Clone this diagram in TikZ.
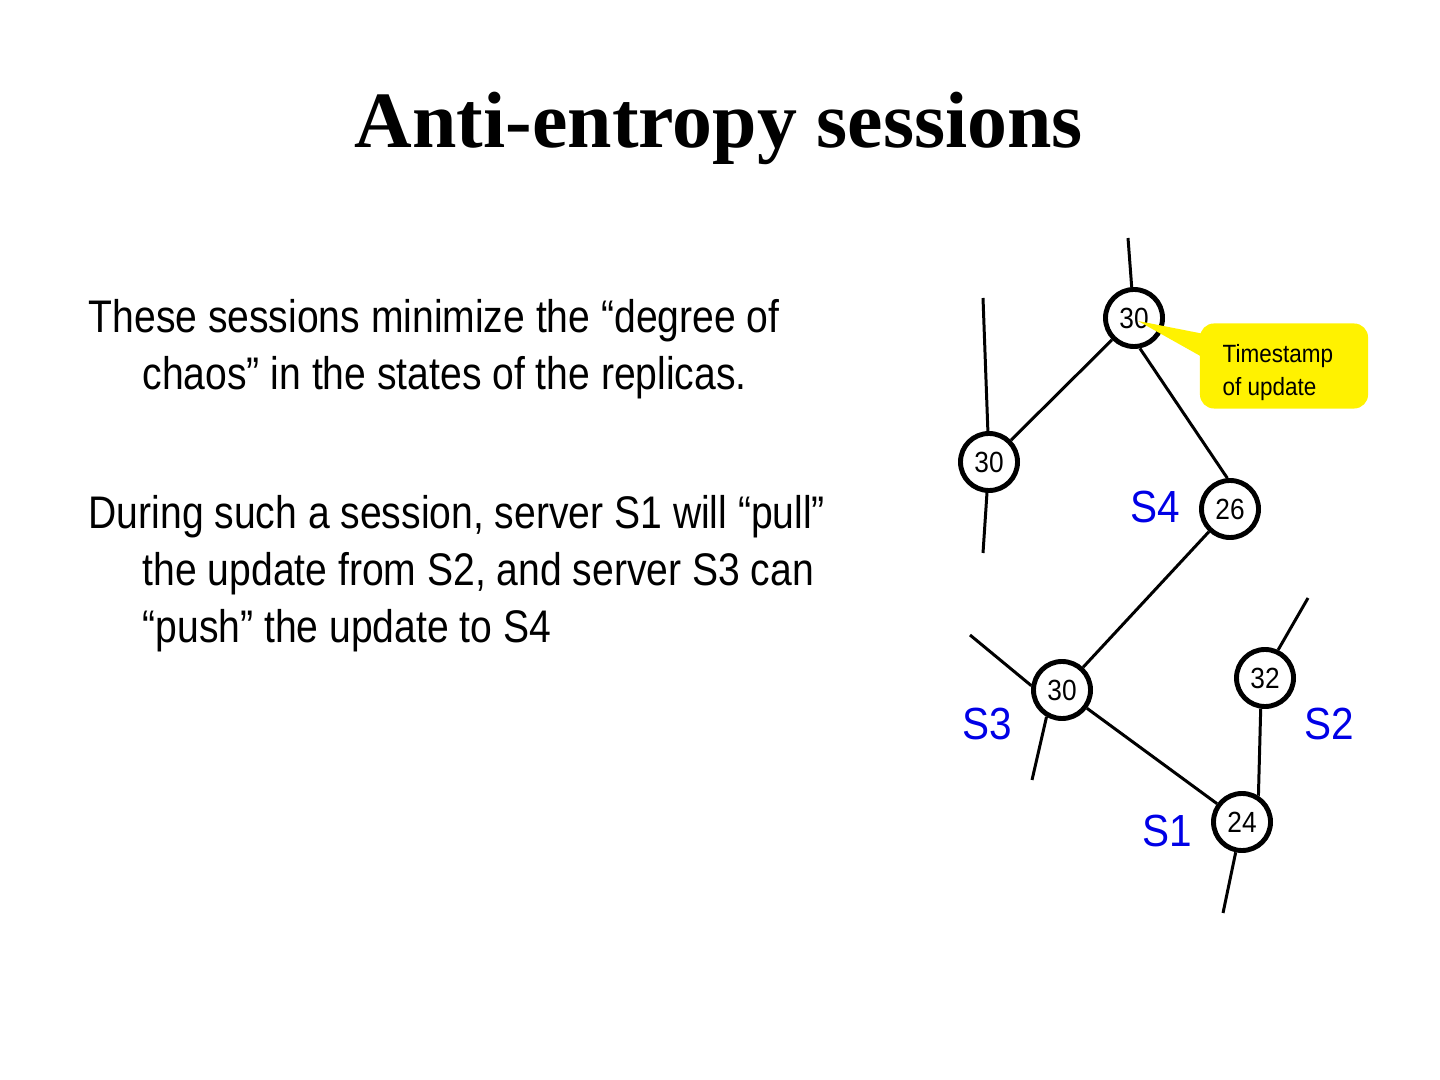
\documentclass[tikz,border=0pt]{standalone}
\usepackage{fontspec}
\setmainfont{Liberation Sans}
\newfontfamily\narrowfont{Liberation Sans}[FakeStretch=0.855]
\newfontfamily\numfont{Liberation Sans}[FakeStretch=0.9]
\newfontfamily\titlefont{Liberation Serif}
\usetikzlibrary{positioning, calc}
\definecolor{srvblue}{RGB}{0,0,230}

\begin{document}
\begin{tikzpicture}[x=0.01cm, y=-0.01cm,
    replica/.style={circle, draw, line width=1.4pt, fill=white, minimum size=0.57cm, inner sep=0pt,
        font=\numfont\fontsize{8.3}{10}\selectfont},
    link/.style={line width=0.85pt},
    srv/.style={text=srvblue, inner sep=0pt, font=\numfont\fontsize{12.8}{15}\selectfont},
    body/.style={anchor=base west, inner sep=0pt, font=\narrowfont\fontsize{13}{16}\selectfont},
    notebox/.style={fill=yellow, rounded corners=0.14cm, minimum width=1.68cm, minimum height=0.85cm}]
    \useasboundingbox (0,0) rectangle (1440,1080);

    % Title
    \node[anchor=base, font=\titlefont\bfseries\fontsize{22.7}{27}\selectfont] (title) at (719,148) {Anti-entropy sessions};

    % Text
    \node[body] (p1a) at (88,333) {These sessions minimize the “degree of};
    \node[body] (p1b) at (142,390) {chaos” in the states of the replicas.};
    \node[body] (p2a) at (88,529) {During such a session, server S1 will “pull”};
    \node[body] (p2b) at (142,586) {the update from S2, and server S3 can};
    \node[body] (p2c) at (142,643) {“push” the update to S4};

    % Replicas
    \node[replica] (top) at (1134,318) {30};
    \node[replica] (left) at (989,462) {30};
    \node[replica] (s4) at (1230,509) {26};
    \node[replica] (s3) at (1062,690) {30};
    \node[replica] (s2) at (1265,678) {32};
    \node[replica] (s1) at (1242,822) {24};

    \coordinate (topin) at (1128,238);
    \coordinate (leftin) at (983,298);
    \coordinate (leftout) at (983,553);
    \coordinate (s3in) at (970,635);
    \coordinate (s3out) at (1032,780);
    \coordinate (s2in) at (1308,598);
    \coordinate (s1out) at (1223,913);

    \draw[link] (topin) -- (top);
    \draw[link] (leftin) -- (left);
    \draw[link] (left) -- (leftout);
    \draw[link] (top) -- (left);
    \draw[link] (top.281) -- (s4.95);
    \draw[link] (s4) -- (s3);
    \draw[link] (s3in) -- (s3.172);
    \draw[link] (s3.240) -- (s3out);
    \draw[link] (s3) -- (s1);
    \draw[link] (s2in) -- (s2.65);
    \draw[link] (s2.262) -- (s1.58);
    \draw[link] (s1) -- (s1out);

    % Server labels
    \node[srv] (lab4) at (1155,507) {S4};
    \node[srv] (lab3) at (987,724) {S3};
    \node[srv] (lab2) at (1329,724) {S2};
    \node[srv] (lab1) at (1167,831) {S1};

    % Callout
    \node[notebox] (note) at (1284,366) {};
    \coordinate (tip) at (1138,321);
    \fill[yellow] (tip) -- ($(note.west)+(10,-31)$) -- ($(note.west)+(10,-5)$) -- cycle;
    \node[anchor=north west, inner sep=0pt, align=left, font=\numfont\fontsize{7.1}{9.4}\selectfont] (notetxt) at (1222,344) {Timestamp\\of update};
\end{tikzpicture}
\end{document}
